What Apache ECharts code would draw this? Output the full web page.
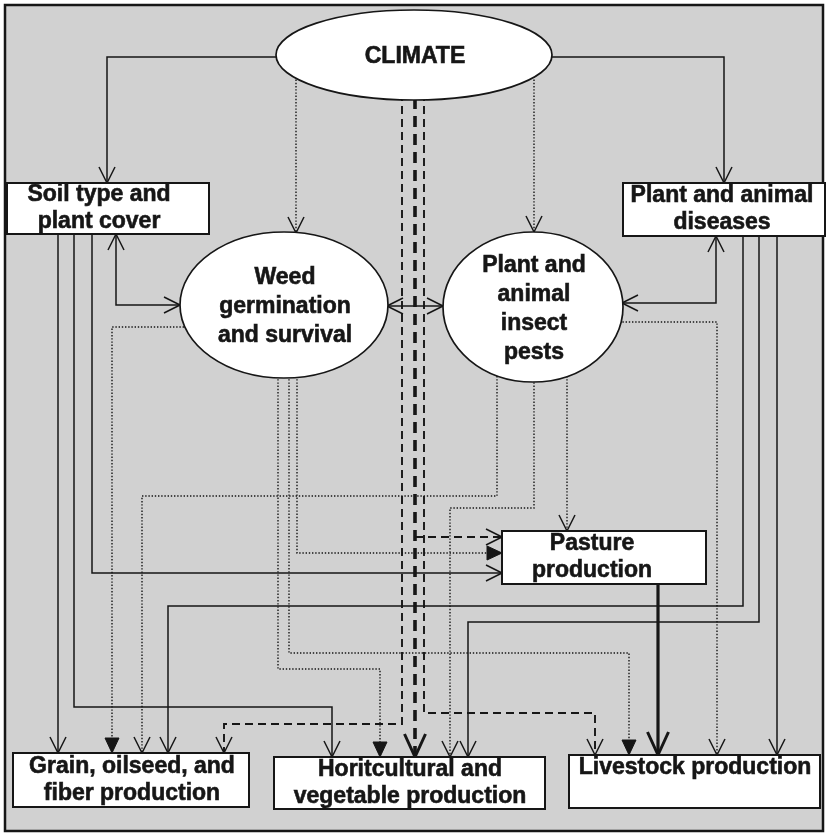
<!DOCTYPE html>
<html>
<head>
<meta charset="utf-8">
<script src="https://cdn.jsdelivr.net/npm/echarts@6/dist/echarts.min.js"></script>
<style>
  html, body { margin: 0; padding: 0; background: #fff; }
  #main { width: 827px; height: 833px; }
</style>
</head>
<body>
<div id="main"></div>
<script>
// boxes (rectangular nodes), in diagram units
const boxLabels = ['Soil type and\nplant cover', 'Plant and animal\ndiseases', 'Pasture\nproduction',
  'Grain, oilseed, and\nfiber production', 'Horitcultural and\nvegetable production', 'Livestock production\n ']
const boxLeft = [7, 623, 502, 13, 274, 569]
const boxTop = [183, 183, 531, 753, 757, 755]
const boxRight = [209, 825, 706, 249, 545, 820]
const boxBottom = [234, 236, 584, 807, 809, 808]
const boxTextX = [99, 722, 592, 132, 410, 695]

// ovals
const ovalLabels = ['CLIMATE', 'Weed\ngermination\nand survival', 'Plant and\nanimal\ninsect\npests']
const ovalCx = [414, 284, 533]
const ovalCy = [55, 305, 307]
const ovalRx = [138, 104, 90]
const ovalRy = [45, 73, 75]

// links: waypoints, line kind, head kind, double headed
const edgePaths = [
  [[277, 57], [107, 57], [107, 183]], // climate -> soil
  [[552, 57], [724, 57], [724, 183]], // climate -> diseases
  [[296, 70], [296, 233]], // climate -> weed
  [[534, 70], [534, 232]], // climate -> pests
  [[116, 234], [116, 305], [180, 305]], // soil <-> weed
  [[387, 306], [443, 306]], // weed <-> pests
  [[716, 236], [716, 303], [622, 303]], // diseases <-> pests
  [[58, 234], [58, 753]], // soil -> grain
  [[74, 234], [74, 707], [332, 707], [332, 757]], // soil -> hort
  [[92, 234], [92, 573], [502, 573]], // soil -> pasture
  [[743, 236], [743, 606], [168, 606], [168, 753]], // diseases -> grain
  [[759, 236], [759, 622], [468, 622], [468, 757]], // diseases -> hort
  [[777, 236], [777, 755]], // diseases -> livestock
  [[658, 584], [658, 755]], // pasture -> livestock
  [[200, 327], [112, 327], [112, 753]], // weed -> grain
  [[297, 360], [297, 553], [502, 553]], // weed -> pasture
  [[289, 360], [289, 653], [629, 653], [629, 755]], // weed -> livestock
  [[278, 360], [278, 669], [380, 669], [380, 757]], // weed -> hort
  [[497, 360], [497, 496], [142, 496], [142, 753]], // pests -> grain
  [[534, 360], [534, 508], [450, 508], [450, 757]], // pests -> hort
  [[567, 360], [567, 531]], // pests -> pasture
  [[600, 322], [717, 322], [717, 755]], // pests -> livestock
  [[415, 80], [415, 757]], // climate -> hort
  [[415, 537], [502, 537]], // climate -> pasture
  [[402, 80], [402, 724], [224, 724], [224, 753]], // climate -> grain
  [[424, 80], [424, 713], [595, 713], [595, 755]] // climate -> livestock
]
const edgeKinds = ['solid', 'solid', 'dot', 'dot', 'solid', 'solid', 'solid', 'solid', 'solid', 'solid',
  'solid', 'solid', 'solid', 'thick', 'dot', 'dot', 'dot', 'dot', 'dot', 'dot', 'dot', 'dot',
  'thickdash', 'dash', 'dash', 'dash']
const edgeHeads = ['open', 'open', 'open', 'open', 'open', 'open', 'open', 'open', 'open', 'open',
  'open', 'open', 'open', 'big', 'fill', 'fill', 'fill', 'fill', 'open', 'open', 'open', 'open',
  'big', 'open', 'open', 'open']
const edgeBoth = [false, false, false, false, true, true, true]

const ink = '#161616'
const lineStyles = {
  solid: { width: 1.5, dash: null },
  thick: { width: 3.2, dash: null },
  dot: { width: 1.4, dash: [1.4, 1.8] },
  dash: { width: 1.9, dash: [8, 5] },
  thickdash: { width: 3.6, dash: [11, 7] }
}
const headShapes = {
  open: { len: 16, half: 8, width: 1.5, filled: false },
  fill: { len: 15, half: 7, width: 1, filled: true },
  big: { len: 23, half: 10.5, width: 3, filled: false }
}
const font = 'bold 23px "Liberation Sans", Arial, Helvetica, sans-serif'

function arrowHead (from, to, kind) {
  const h = headShapes[kind]
  const dx = to[0] - from[0]
  const dy = to[1] - from[1]
  const len = Math.hypot(dx, dy) || 1
  const ux = dx / len
  const uy = dy / len
  const bx = to[0] - ux * h.len
  const by = to[1] - uy * h.len
  const a = [bx - uy * h.half, by + ux * h.half]
  const b = [bx + uy * h.half, by - ux * h.half]
  if (h.filled) {
    return { type: 'polygon', shape: { points: [a, to, b] }, style: { fill: ink, stroke: ink, lineWidth: h.width } }
  }
  return {
    type: 'polyline',
    shape: { points: [a, to, b] },
    style: { fill: 'none', stroke: ink, lineWidth: h.width, lineJoin: 'round' }
  }
}

function renderEdge (params, api) {
  const i = params.dataIndex
  const pts = edgePaths[i].map(p => api.coord(p))
  const s = lineStyles[edgeKinds[i]]
  const children = [{
    type: 'polyline',
    shape: { points: pts },
    style: { fill: 'none', stroke: ink, lineWidth: s.width, lineDash: s.dash }
  }]
  children.push(arrowHead(pts[pts.length - 2], pts[pts.length - 1], edgeHeads[i]))
  if (edgeBoth[i]) children.push(arrowHead(pts[1], pts[0], edgeHeads[i]))
  return { type: 'group', children }
}

function labelStyle (text, x, y, lineHeight) {
  return {
    text, x, y, align: 'center', verticalAlign: 'middle', font, lineHeight,
    fill: ink, stroke: ink, lineWidth: 0.6
  }
}

function renderBox (params, api) {
  const i = params.dataIndex
  const p0 = api.coord([boxLeft[i], boxTop[i]])
  const p1 = api.coord([boxRight[i], boxBottom[i]])
  const c = api.coord([boxTextX[i], (boxTop[i] + boxBottom[i]) / 2])
  return {
    type: 'group',
    children: [
      {
        type: 'rect',
        shape: { x: p0[0], y: p0[1], width: p1[0] - p0[0], height: p1[1] - p0[1] },
        style: { fill: '#fff', stroke: ink, lineWidth: 2 }
      },
      { type: 'text', style: labelStyle(boxLabels[i], c[0], c[1], 27) }
    ]
  }
}

function renderOval (params, api) {
  const i = params.dataIndex
  const c = api.coord([ovalCx[i], ovalCy[i]])
  const r = api.size([ovalRx[i], ovalRy[i]])
  return {
    type: 'group',
    children: [
      {
        type: 'ellipse',
        shape: { cx: c[0], cy: c[1], rx: Math.abs(r[0]), ry: Math.abs(r[1]) },
        style: { fill: '#fff', stroke: ink, lineWidth: 1.7 }
      },
      { type: 'text', style: labelStyle(ovalLabels[i], c[0] + 1, c[1] + 2, 29) }
    ]
  }
}

const chart = echarts.init(document.getElementById('main'))
chart.setOption({
  animation: false,
  grid: {
    left: 5,
    right: 4,
    top: 5,
    bottom: 2,
    show: true,
    backgroundColor: '#d1d1d1',
    borderColor: ink,
    borderWidth: 2.5
  },
  xAxis: { type: 'value', min: 5, max: 823, show: false },
  yAxis: { type: 'value', min: 5, max: 831, inverse: true, show: false },
  series: [
    {
      type: 'custom',
      z: 2,
      renderItem: renderEdge,
      data: edgePaths.map(p => p[0])
    },
    {
      type: 'custom',
      z: 3,
      renderItem: renderOval,
      data: ovalCx.map((x, i) => [x, ovalCy[i]])
    },
    {
      type: 'custom',
      z: 3,
      renderItem: renderBox,
      data: boxLeft.map((x, i) => [x, boxTop[i]])
    }
  ]
})
</script>
</body>
</html>
